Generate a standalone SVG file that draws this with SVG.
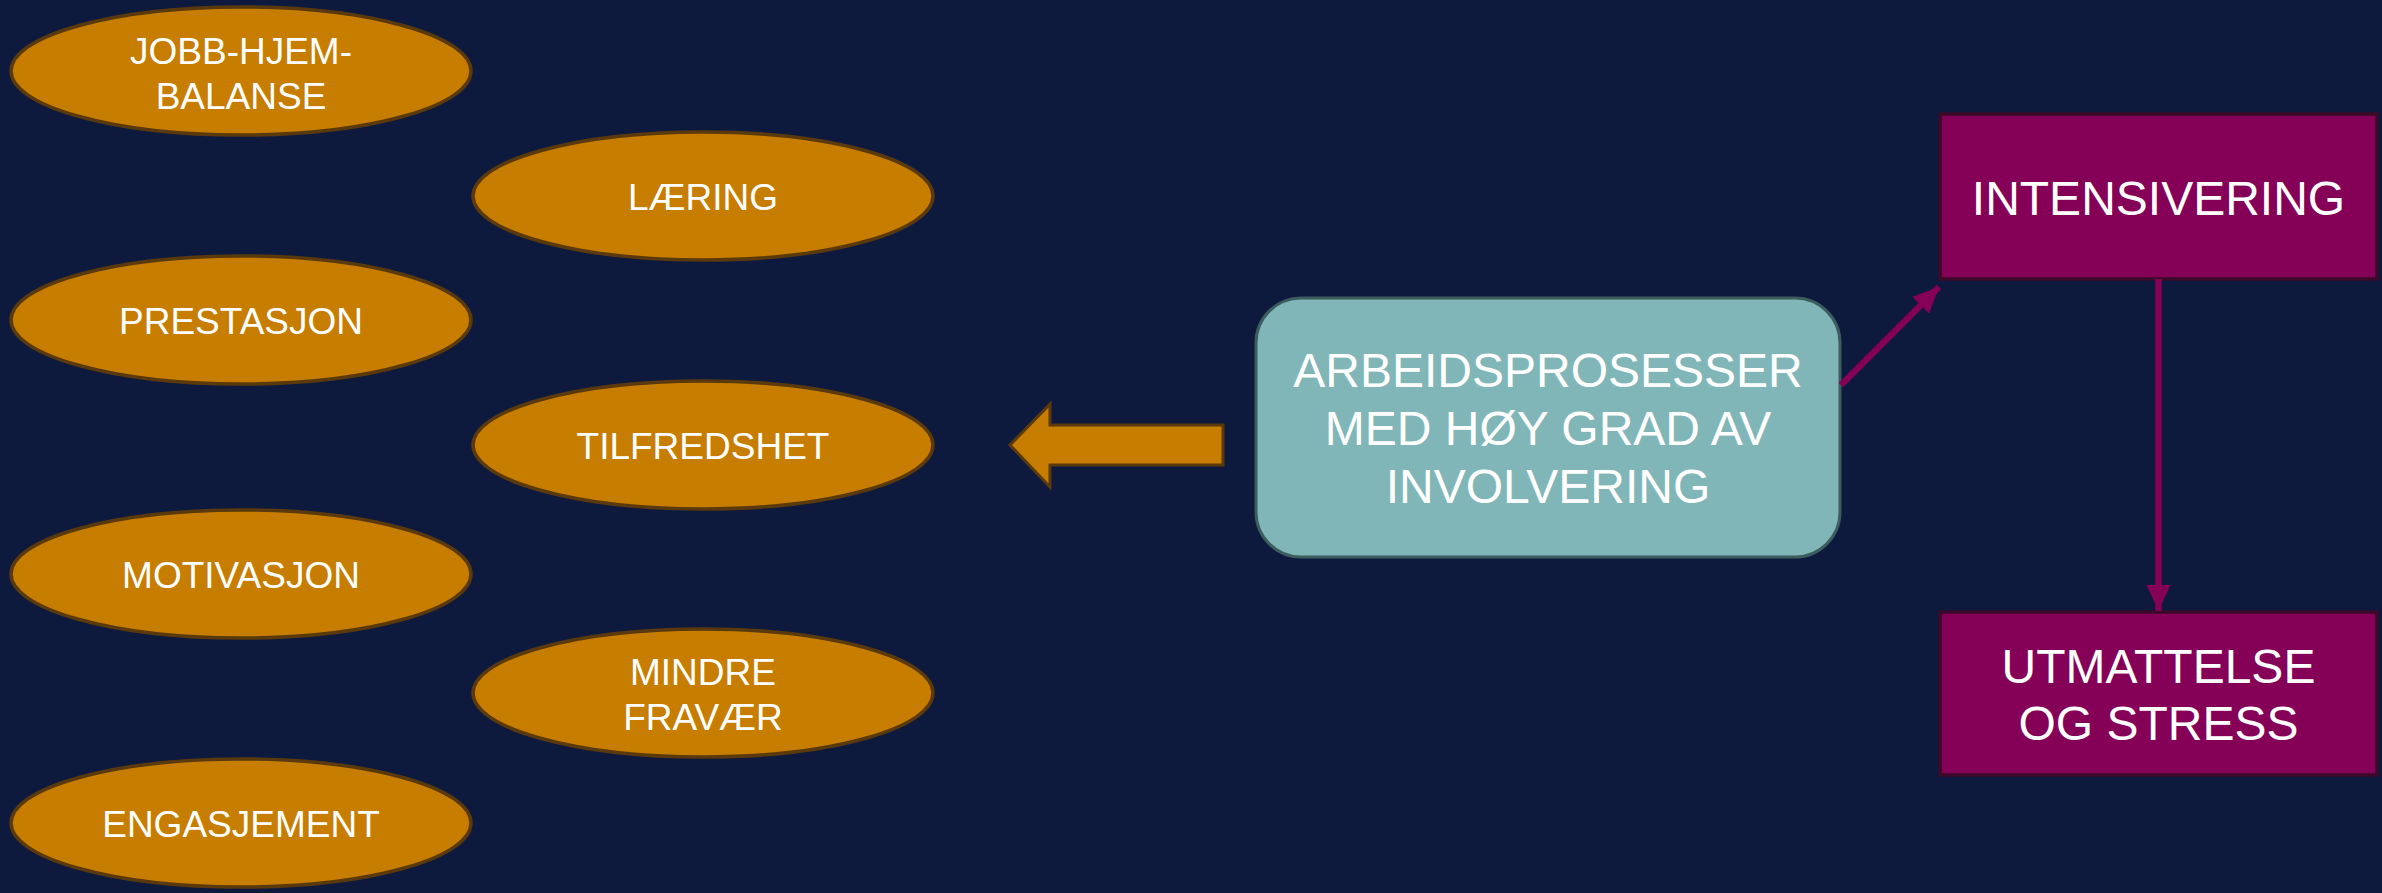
<svg xmlns="http://www.w3.org/2000/svg" width="2382" height="893" viewBox="0 0 2382 893">
<style>
.bg{fill:#0D1A3E}
.ell{fill:#C77D00;stroke:#5A3A0C;stroke-width:3.5}
.t{font-family:"Liberation Sans",Arial,sans-serif;fill:#FFFFFF;text-anchor:middle}
.et{font-size:37px}
.bt{font-size:48px}
.teal{fill:#80B6B8;stroke:#3C5C5E;stroke-width:3}
.mag{fill:#850057;stroke:#3A0A28;stroke-width:3.5}
.conn{stroke:#850057;stroke-width:6.5;fill:none}
.blk{fill:#C77D00;stroke:#5A3A0C;stroke-width:3}
</style>
<defs>
<marker id="ah" markerUnits="userSpaceOnUse" markerWidth="28" markerHeight="26" refX="26" refY="12" orient="auto">
<path d="M0,0 L26,12 L0,24 Z" fill="#850057"/>
</marker>
</defs>
<rect class="bg" x="0" y="0" width="2382" height="893"/>
<g id="jobb">
<ellipse class="ell" cx="241" cy="71" rx="230" ry="64"/>
<text class="t et" x="241" y="64">JOBB-HJEM-</text>
<text class="t et" x="241" y="109">BALANSE</text>
</g>
<g id="laering">
<ellipse class="ell" cx="703" cy="196" rx="230" ry="64"/>
<text class="t et" x="703" y="210">LÆRING</text>
</g>
<g id="prestasjon">
<ellipse class="ell" cx="241" cy="320" rx="230" ry="64"/>
<text class="t et" x="241" y="334">PRESTASJON</text>
</g>
<g id="tilfredshet">
<ellipse class="ell" cx="703" cy="445" rx="230" ry="64"/>
<text class="t et" x="703" y="459">TILFREDSHET</text>
</g>
<g id="motivasjon">
<ellipse class="ell" cx="241" cy="574" rx="230" ry="64"/>
<text class="t et" x="241" y="588">MOTIVASJON</text>
</g>
<g id="mindre">
<ellipse class="ell" cx="703" cy="693" rx="230" ry="64"/>
<text class="t et" x="703" y="685">MINDRE</text>
<text class="t et" x="703" y="730">FRAVÆR</text>
</g>
<g id="engasjement">
<ellipse class="ell" cx="241" cy="823" rx="230" ry="64"/>
<text class="t et" x="241" y="837">ENGASJEMENT</text>
</g>
<g id="arbeid">
<rect class="teal" x="1256" y="298" width="584" height="259" rx="45" ry="45"/>
<text class="t bt" x="1548" y="387">ARBEIDSPROSESSER</text>
<text class="t bt" x="1548" y="445">MED HØY GRAD AV</text>
<text class="t bt" x="1548" y="503">INVOLVERING</text>
</g>
<g id="intensivering">
<rect class="mag" x="1940" y="114" width="437" height="165"/>
<text class="t bt" x="2158.5" y="215">INTENSIVERING</text>
</g>
<g id="utmattelse">
<rect class="mag" x="1940" y="612" width="437" height="163"/>
<text class="t bt" x="2158.5" y="683">UTMATTELSE</text>
<text class="t bt" x="2158.5" y="740">OG STRESS</text>
</g>
<g id="connectors">
<polygon class="blk" points="1010,445 1050,404 1050,425 1223,425 1223,465 1050,465 1050,487"/>
<line class="conn" x1="1841" y1="385" x2="1939" y2="287" marker-end="url(#ah)"/>
<line class="conn" x1="2158.5" y1="279" x2="2158.5" y2="611" marker-end="url(#ah)"/>
</g>
</svg>
